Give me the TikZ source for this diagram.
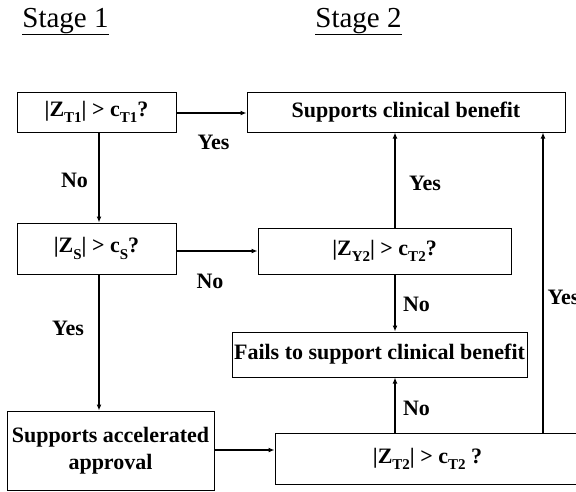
\documentclass[tikz,border=0pt]{standalone}
\usepackage{fontspec}
\setmainfont{Liberation Serif}
\usetikzlibrary{arrows.meta}
% subscript set a little larger and lower than \textsubscript
\newcommand{\sbs}[1]{\raisebox{-0.28em}{\fontsize{15}{15}\selectfont #1}}
\tikzset{
  box/.style={draw, line width=1pt, inner sep=0pt, font=\fontsize{22}{27}\selectfont\bfseries, align=center},
  flow/.style={line width=2pt, -{Latex[length=6pt,width=5pt]}},
  lbl/.style={font=\fontsize{22}{26}\selectfont\bfseries},
  stage/.style={font=\fontsize{29}{34}\selectfont}
}
\begin{document}
\begin{tikzpicture}[x=1pt,y=-1pt]
\useasboundingbox[fill=white] (0,0) rectangle (576,491);

% stage headings
\node[stage, anchor=base] (s1) at (65.5,27) {\underline{Stage 1}};
\node[stage, anchor=base] (s2) at (358.5,27) {\underline{Stage 2}};

% decision and outcome boxes
\node[box, minimum width=159pt, minimum height=40pt] (t1) at (96.5,112) {|Z\sbs{T1}| > c\sbs{T1}?};
\node[box, minimum width=318pt, minimum height=40pt] (scb) at (406,112) {Supports clinical benefit};
\node[box, minimum width=159pt, minimum height=51pt] (zs) at (96.5,248.5) {|Z\sbs{S}| > c\sbs{S}?};
\node[box, minimum width=253pt, minimum height=46pt] (zy2) at (384.5,251) {|Z\sbs{Y2}| > c\sbs{T2}?};
\node[box, minimum width=295pt, minimum height=45pt] (fail) at (379.5,354.5) {Fails to support clinical benefit};
\node[box, minimum width=207pt, minimum height=79pt] (saa) at (110.5,450.5) {Supports accelerated\\approval};
\node[box, minimum width=305pt, minimum height=51pt] (zt2) at (427.5,458.5) {|Z\sbs{T2}| > c\sbs{T2} ?};

% routing lines: x of vertical arrows, y of horizontal arrows
\coordinate (xl) at (99,0);
\coordinate (xm) at (395,0);
\coordinate (xr) at (543,0);
\coordinate (y1) at (0,113);
\coordinate (y2) at (0,251);
\coordinate (y3) at (0,450);

% connectors
\draw[flow] (t1.east |- y1) -- (scb.west |- y1);
\draw[flow] (t1.south -| xl) -- (zs.north -| xl);
\draw[flow] (zs.east |- y2) -- (zy2.west |- y2);
\draw[flow] (zs.south -| xl) -- (saa.north -| xl);
\draw[flow] (zy2.north -| xm) -- (scb.south -| xm);
\draw[flow] (zy2.south -| xm) -- (fail.north -| xm);
\draw[flow] (saa.east |- y3) -- (zt2.west |- y3);
\draw[flow] (zt2.north -| xm) -- (fail.south -| xm);
\draw[flow] (zt2.north -| xr) -- (scb.south -| xr);

% branch labels
\node[lbl] (l1) at (213.5,142) {Yes};
\node[lbl] (l2) at (74.5,180) {No};
\node[lbl] (l3) at (425,183) {Yes};
\node[lbl] (l4) at (210,281) {No};
\node[lbl] (l5) at (416.5,304) {No};
\node[lbl, anchor=west] (l6) at (544,297) {Yes};
\node[lbl] (l7) at (68,328) {Yes};
\node[lbl] (l8) at (416.5,408) {No};
\end{tikzpicture}
\end{document}
